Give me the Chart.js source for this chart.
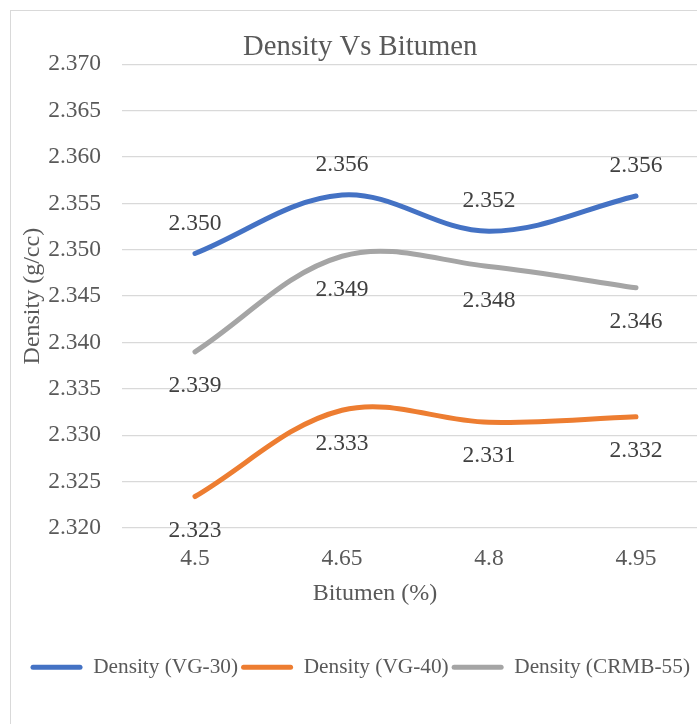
<!DOCTYPE html>
<html><head><meta charset="utf-8">
<script src="https://cdn.jsdelivr.net/npm/chart.js@4/dist/chart.umd.min.js"></script>
<style>
html,body{margin:0;padding:0;background:#fff;overflow:hidden;width:697px;height:724px;}
#frame{position:absolute;left:10px;top:10px;width:720px;height:740px;border:1px solid #d9d9d9;background:#fff;}
canvas{display:block;}
</style></head><body>
<div id="frame"><canvas id="c" width="720" height="677"></canvas></div>
<script>
const categories = ['4.5', '4.65', '4.8', '4.95'];
const seriesNames = ['Density (VG-30)', 'Density (VG-40)', 'Density (CRMB-55)'];
const vg30 = [2.3496, 2.3559, 2.3520, 2.3558];
const vg40 = [2.3234, 2.3327, 2.3314, 2.3320];
const crmb55 = [2.3390, 2.3493, 2.3482, 2.3459];
const yTickValues = [2.320, 2.325, 2.330, 2.335, 2.340, 2.345, 2.350, 2.355, 2.360, 2.365, 2.370];
const xAxisTitle = 'Bitumen (%)';

const SERIF = '"Liberation Serif", "Times New Roman", serif';
const AXIS_COLOR = '#595959';

const dataLabels = {
  id: 'dataLabels',
  afterDatasetsDraw(chart) {
    const ctx = chart.ctx;
    ctx.save();
    ctx.font = '23.5px ' + SERIF;
    ctx.fillStyle = '#404040';
    ctx.textAlign = 'center';
    ctx.textBaseline = 'middle';
    chart.data.datasets.forEach((ds, i) => {
      const meta = chart.getDatasetMeta(i);
      meta.data.forEach((pt, j) => {
        const dy = ds.labelPos === 'above' ? -30 : 34;
        ctx.fillText(ds.data[j].toFixed(3), pt.x, pt.y + dy);
      });
    });
    ctx.restore();
  },
  afterDraw(chart) {
    const xs = chart.scales.x;
    const ctx = chart.ctx;
    ctx.save();
    ctx.font = '24px ' + SERIF;
    ctx.fillStyle = AXIS_COLOR;
    ctx.textAlign = 'center';
    ctx.textBaseline = 'middle';
    ctx.fillText(xAxisTitle, (xs.left + xs.right) / 2 - 40.5, xs.top + 66);
    ctx.restore();
  }
};

function makeDs(label, data, color, labelPos) {
  return {
    label, data, labelPos,
    borderColor: color, backgroundColor: color,
    borderWidth: 5, borderCapStyle: 'round', borderJoinStyle: 'round',
    pointRadius: 0, pointHoverRadius: 0,
    tension: 0.36, fill: false
  };
}

new Chart(document.getElementById('c'), {
  type: 'line',
  data: {
    labels: categories,
    datasets: [
      makeDs(seriesNames[0], vg30, '#4472C4', 'above'),
      makeDs(seriesNames[1], vg40, '#ED7D31', 'below'),
      makeDs(seriesNames[2], crmb55, '#A5A5A5', 'below')
    ]
  },
  options: {
    responsive: false,
    animation: false,
    devicePixelRatio: 1,
    layout: { padding: { left: 0, right: 21.5, top: 0, bottom: 0 } },
    plugins: {
      title: {
        display: true,
        text: 'Density Vs Bitumen',
        color: AXIS_COLOR,
        font: { family: SERIF, size: 28.7, weight: 'normal' },
        padding: { top: 18.8, bottom: 0 }
      },
      legend: {
        position: 'bottom',
        labels: {
          color: AXIS_COLOR,
          font: { family: SERIF, size: 21.3 },
          boxWidth: 52,
          boxHeight: 5,
          padding: 3,
          useBorderRadius: true,
          borderRadius: 2.5,
          generateLabels(chart) {
            const items = Chart.defaults.plugins.legend.labels.generateLabels(chart);
            items.forEach(it => { it.lineWidth = 0; it.fillStyle = it.strokeStyle; });
            return items;
          }
        }
      },
      tooltip: { enabled: false }
    },
    scales: {
      x: {
        offset: true,
        grid: { display: false, drawTicks: false },
        border: { display: false },
        ticks: { color: AXIS_COLOR, font: { family: SERIF, size: 23.5 }, padding: 16.2 },
        title: { display: false, text: xAxisTitle },
        afterFit(scale) { scale.height = 125.65; }
      },
      y: {
        min: 2.320, max: 2.370,
        grid: { color: '#d9d9d9', lineWidth: 1.3, drawTicks: false },
        border: { display: false },
        afterBuildTicks(scale) { scale.ticks = yTickValues.map(v => ({ value: v })); },
        ticks: {
          color: AXIS_COLOR, font: { family: SERIF, size: 23.5 }, padding: 20.5,
          callback: v => Number(v).toFixed(3)
        },
        title: {
          display: true, text: 'Density (g/cc)', color: AXIS_COLOR,
          font: { family: SERIF, size: 24 }, padding: { top: 7, bottom: 0 }
        },
        afterFit(scale) { scale.width = 110.5; }
      }
    }
  },
  plugins: [dataLabels]
});
</script>
</body></html>
